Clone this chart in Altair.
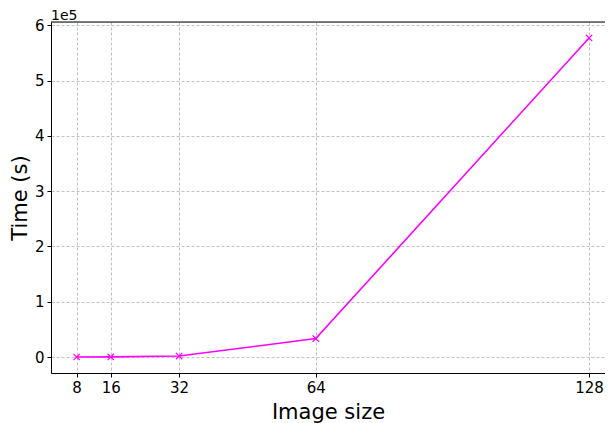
import altair as alt
import pandas as pd

image_size = [8, 16, 32, 64, 128]
time_s = [30, 250, 1800, 33400, 577000]
x_ticks = [8, 16, 32, 64, 128]
y_ticks = [0, 100000, 200000, 300000, 400000, 500000, 600000]

df = pd.DataFrame({"size": image_size, "time": time_s})

W, H = 554, 351
FONT = "DejaVu Sans"
MAG = "#ff00ff"

xscale = alt.Scale(domain=[2, 131.73], nice=False, zero=False)
yscale = alt.Scale(domain=[-28850, 605850], nice=False, zero=False)

xaxis = alt.Axis(values=x_ticks, title="Image size", grid=True, gridDash=[3, 2],
                 gridColor="#b0b0b0", gridWidth=0.8, domainColor="black", domainWidth=1,
                 tickColor="black", tickSize=4, labelPadding=3, labelFontSize=15,
                 labelFont=FONT, labelColor="black", titleFont=FONT, titleFontSize=21,
                 titleFontWeight="normal", titleColor="black", titlePadding=6)
yaxis = alt.Axis(values=y_ticks, title="Time (s)", grid=True, gridDash=[3, 2],
                 gridColor="#b0b0b0", gridWidth=0.8, domainColor="black", domainWidth=1,
                 tickColor="black", tickSize=4, labelPadding=3, labelFontSize=15,
                 labelFont=FONT, labelColor="black", labelExpr="format(datum.value/100000, 'd')",
                 titleFont=FONT, titleFontSize=21, titleFontWeight="normal",
                 titleColor="black", titlePadding=4)

base = alt.Chart(df)
line = base.mark_line(color=MAG, strokeWidth=1.6).encode(
    x=alt.X("size:Q", scale=xscale, axis=xaxis),
    y=alt.Y("time:Q", scale=yscale, axis=yaxis),
)
pts = base.mark_point(shape="M-1,-1L1,1M1,-1L-1,1", filled=False, color=MAG,
                      strokeWidth=1.2, size=40, opacity=1).encode(
    x=alt.X("size:Q", scale=xscale),
    y=alt.Y("time:Q", scale=yscale),
)
top = alt.Chart(pd.DataFrame({"a": [0]})).mark_rule(color="black", strokeWidth=1).encode(
    x=alt.value(0), x2=alt.value(W), y=alt.value(0)
)
offset = alt.Chart(pd.DataFrame({"t": ["1e5"]})).mark_text(
    align="left", baseline="alphabetic", font=FONT, fontSize=14, color="black"
).encode(x=alt.value(0), y=alt.value(-2), text="t:N")

chart = alt.layer(line, pts, top, offset).properties(
    width=W, height=H,
    autosize=alt.AutoSizeParams(type="none"),
    padding={"left": 43, "top": 14, "right": 0, "bottom": 50},
).configure_view(stroke=None).configure(background="white")

chart.save("out.html", embed_options={"renderer": "svg", "actions": False})
